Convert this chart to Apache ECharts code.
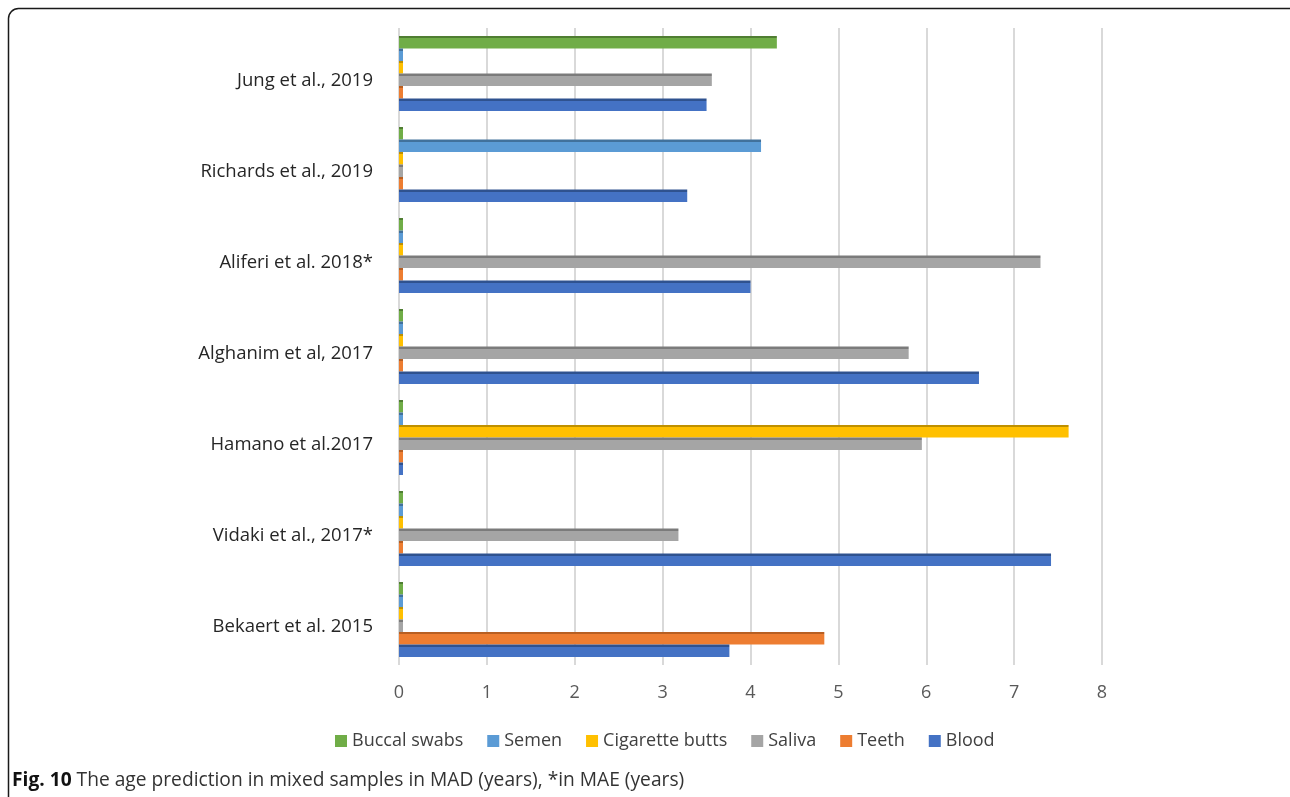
<!DOCTYPE html>
<html>
<head>
<meta charset="utf-8">
<script src="https://cdn.jsdelivr.net/npm/echarts@6/dist/echarts.min.js"></script>
<style>
html,body{margin:0;padding:0;background:#fff;}
#main{width:1290px;height:797px;}
</style>
</head>
<body>
<div id="main"></div>
<script>
// Categories, bottom to top
var studies = ['Bekaert et al. 2015', 'Vidaki et al., 2017*', 'Hamano et al.2017', 'Alghanim et al, 2017', 'Aliferi et al. 2018*', 'Richards et al., 2019', 'Jung et al., 2019'];
var blood      = [3.76, 7.42, 0, 6.6, 4.0, 3.28, 3.5];
var teeth      = [4.84, 0, 0, 0, 0, 0, 0];
var saliva     = [0, 3.18, 5.95, 5.8, 7.3, 0, 3.56];
var cigarette  = [0, 0, 7.62, 0, 0, 0, 0];
var semen      = [0, 0, 0, 0, 0, 4.12, 0];
var buccal     = [0, 0, 0, 0, 0, 0, 4.3];
var xTicks = [0, 1, 2, 3, 4, 5, 6, 7, 8];
var legendOrder = ['Buccal swabs', 'Semen', 'Cigarette butts', 'Saliva', 'Teeth', 'Blood'];

var colors = {
  'Blood': ['#4472C4', '#2F528F'],
  'Teeth': ['#ED7D31', '#B85F22'],
  'Saliva': ['#A5A5A5', '#7B7B7B'],
  'Cigarette butts': ['#FFC000', '#BF9000'],
  'Semen': ['#5B9BD5', '#41719C'],
  'Buccal swabs': ['#70AD47', '#507E32']
};

function shade(main, dark) {
  return new echarts.graphic.LinearGradient(0, 0, 0, 1, [
    {offset: 0, color: dark}, {offset: 0.16, color: dark},
    {offset: 0.17, color: main}, {offset: 1, color: main}
  ]);
}
function mk(name, data) {
  var c = colors[name];
  return {
    name: name, type: 'bar', data: data,
    barWidth: 12.5, barGap: '0%', barMinHeight: 4,
    itemStyle: {color: shade(c[0], c[1])},
    emphasis: {disabled: true}
  };
}

var chart = echarts.init(document.getElementById('main'));
chart.setOption({
  animation: false,
  textStyle: {fontFamily: 'Open Sans'},
  grid: {left: 399, right: 188, top: 28, bottom: 132},
  legend: {
    data: legendOrder.map(function (n) { return {name: n, icon: 'rect', itemStyle: {color: colors[n][0]}}; }),
    bottom: 42, left: 330,
    itemWidth: 12, itemHeight: 12, itemGap: 24,
    textStyle: {fontSize: 18, color: '#404040', fontFamily: 'Open Sans'}
  },
  xAxis: {
    type: 'value', min: 0, max: 8, interval: 1,
    axisLine: {show: false}, axisTick: {show: false},
    axisLabel: {fontSize: 18, color: '#595959', margin: 19,
      formatter: function (v) { return xTicks.indexOf(v) >= 0 ? String(v) : ''; }},
    splitLine: {lineStyle: {color: '#d9d9d9', width: 2}}
  },
  yAxis: {
    type: 'category', data: studies,
    axisLine: {show: false}, axisTick: {show: false},
    axisLabel: {
      margin: 26,
      formatter: function (v) { return '{a|' + v + '}'; },
      rich: {a: {fontSize: 18.5, color: '#262626', fontFamily: 'Open Sans', padding: [15, 0, 0, 0]}}
    }
  },
  series: [
    mk('Buccal swabs', buccal),
    mk('Semen', semen),
    mk('Cigarette butts', cigarette),
    mk('Saliva', saliva),
    mk('Teeth', teeth),
    mk('Blood', blood)
  ],
  graphic: [
    {type: 'rect', shape: {x: 8.5, y: 8.5, width: 1300, height: 820, r: 10},
     style: {fill: 'none', stroke: '#1a1a1a', lineWidth: 1.5}},
    {type: 'text', left: 12, top: 771,
     style: {text: '{b|Fig. 10} The age prediction in mixed samples in MAD (years), *in MAE (years)',
       font: '19.2px "Open Sans"', fill: '#333',
       rich: {b: {fontWeight: 'bold', fontSize: 19.2, fontFamily: 'Open Sans', fill: '#111'}}}}
  ]
});
</script>
</body>
</html>
